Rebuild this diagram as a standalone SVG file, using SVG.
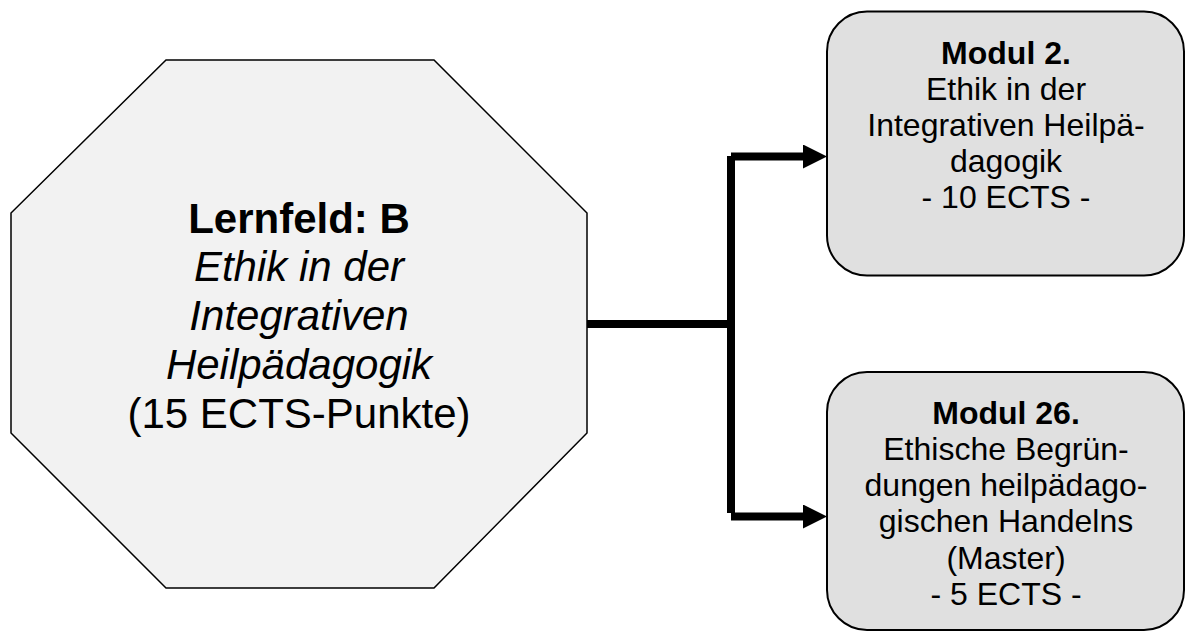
<svg xmlns="http://www.w3.org/2000/svg" width="1185" height="631" viewBox="0 0 1185 631">
<style>
.t{font-family:"Liberation Sans",Arial,sans-serif;fill:#000;text-anchor:middle}
.big{font-size:42px}
.sm{font-size:32px}
.b{font-weight:bold}
.i{font-style:italic}
.oct{fill:#f2f2f2;stroke:#000;stroke-width:1.5}
.box{fill:#e0e0e0;stroke:#000;stroke-width:2}
.con{fill:none;stroke:#000;stroke-width:8}
</style>
<defs>
<marker id="ah" markerUnits="userSpaceOnUse" viewBox="0 0 24 24" markerWidth="24" markerHeight="24" refX="0" refY="12" orient="auto">
<path d="M0,0 L24,12 L0,24 z" fill="#000"/>
</marker>
</defs>
<rect width="1185" height="631" fill="#fff"/>
<g id="connectors">
<path class="con" d="M587,324 H731"/>
<path class="con" d="M731,156 V513"/>
<path class="con" d="M731,156.5 H803" marker-end="url(#ah)"/>
<path class="con" d="M731,516.5 H803" marker-end="url(#ah)"/>
</g>
<g id="lernfeld">
<polygon class="oct" points="166,60 434,60 587,213 587,433 434,588 166,588 11,433 11,213"/>
<text class="t big b" x="299" y="232.5">Lernfeld: B</text>
<text class="t big i" x="299" y="281.4">Ethik in der</text>
<text class="t big i" x="299" y="330.3">Integrativen</text>
<text class="t big i" x="299" y="379.2">Heilpädagogik</text>
<text class="t big" x="299" y="428.1">(15 ECTS-Punkte)</text>
</g>
<g id="modul2">
<rect class="box" x="827" y="11.5" width="357" height="264" rx="40" ry="40"/>
<text class="t sm b" x="1006" y="64">Modul 2.</text>
<text class="t sm" x="1006" y="100">Ethik in der</text>
<text class="t sm" x="1006" y="136">Integrativen Heilpä-</text>
<text class="t sm" x="1006" y="172">dagogik</text>
<text class="t sm" x="1006" y="208">- 10 ECTS -</text>
</g>
<g id="modul26">
<rect class="box" x="827" y="372" width="357" height="258" rx="40" ry="40"/>
<text class="t sm b" x="1006" y="423.5">Modul 26.</text>
<text class="t sm" x="1006" y="459.8">Ethische Begrün-</text>
<text class="t sm" x="1006" y="496.1">dungen heilpädago-</text>
<text class="t sm" x="1006" y="532.4">gischen Handelns</text>
<text class="t sm" x="1006" y="568.7">(Master)</text>
<text class="t sm" x="1006" y="605">- 5 ECTS -</text>
</g>
</svg>
